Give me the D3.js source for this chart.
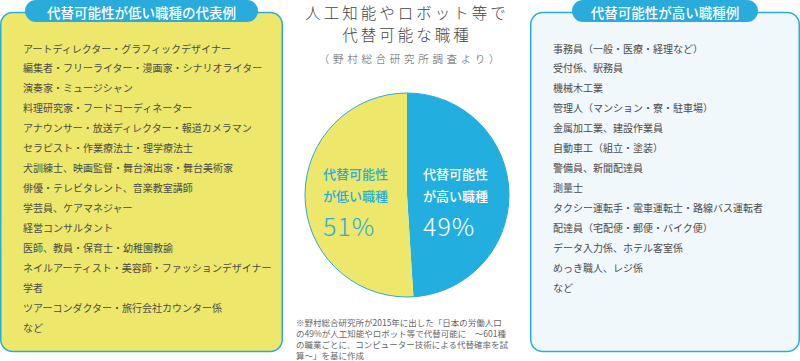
<!DOCTYPE html>
<html><head><meta charset="utf-8">
<script src="https://cdn.jsdelivr.net/npm/d3@7"></script>
<style>
html,body{margin:0;padding:0;background:#fff;}
svg{display:block;font-family:"Noto Sans CJK JP","Noto Sans",sans-serif;}
</style></head>
<body><svg id="c" width="800" height="361"></svg>
<script>
const categories = ["代替可能性が高い職種", "代替可能性が低い職種"];
const values = [49, 51];
const sliceLabelLines = [["代替可能性", "が高い職種"], ["代替可能性", "が低い職種"]];
const titleLines = ["人工知能やロボット等で", "代替可能な職種"];
const subtitle = "（野村総合研究所調査より）";
const lowTitle = "代替可能性が低い職種の代表例";
const lowList = [
  "アートディレクター・グラフィックデザイナー",
  "編集者・フリーライター・漫画家・シナリオライター",
  "演奏家・ミュージシャン",
  "料理研究家・フードコーディネーター",
  "アナウンサー・放送ディレクター・報道カメラマン",
  "セラピスト・作業療法士・理学療法士",
  "犬訓練士、映画監督・舞台演出家・舞台美術家",
  "俳優・テレビタレント、音楽教室講師",
  "学芸員、ケアマネジャー",
  "経営コンサルタント",
  "医師、教員・保育士・幼稚園教諭",
  "ネイルアーティスト・美容師・ファッションデザイナー",
  "学者",
  "ツアーコンダクター・旅行会社カウンター係",
  "など"
];
const highTitle = "代替可能性が高い職種例";
const highList = [
  "事務員（一般・医療・経理など）",
  "受付係、駅務員",
  "機械木工業",
  "管理人（マンション・寮・駐車場）",
  "金属加工業、建設作業員",
  "自動車工（組立・塗装）",
  "警備員、新聞配達員",
  "測量士",
  "タクシー運転手・電車運転士・路線バス運転者",
  "配達員（宅配便・郵便・バイク便）",
  "データ入力係、ホテル客室係",
  "めっき職人、レジ係",
  "など"
];
const footnote = [
  "※野村総合研究所が2015年に出した「日本の労働人口",
  "の49%が人工知能やロボット等で代替可能に　～601種",
  "の職業ごとに、コンピューター技術による代替確率を試",
  "算～」を基に作成"
];

const BLUE = "#29abdc", YELLOW = "#ede86b", TEXT = "#4a4a4a";
const svg = d3.select("#c");

function panel(x, w, fill, title, pillX, pillW, items) {
  const g = svg.append("g");
  g.append("rect").attr("x", x + 0.75).attr("y", 12.5).attr("width", w - 1.5).attr("height", 339)
    .attr("rx", 12).attr("fill", fill).attr("stroke", BLUE).attr("stroke-width", 1.5);
  g.append("rect").attr("x", pillX).attr("y", 0).attr("width", pillW).attr("height", 22)
    .attr("rx", 11).attr("fill", BLUE);
  g.append("text").attr("x", pillX + pillW / 2).attr("y", 11.5)
    .attr("text-anchor", "middle").attr("dominant-baseline", "central")
    .attr("fill", "#fff").attr("font-size", 13.5).attr("font-weight", 500).text(title);
  const y = d3.scalePoint().domain(d3.range(items.length)).range([48, 48 + 19.93 * (items.length - 1)]);
  g.selectAll("text.item").data(items).join("text").attr("class", "item")
    .attr("x", x + 23).attr("y", (d, i) => y(i)).attr("dominant-baseline", "central")
    .attr("fill", TEXT).attr("font-size", 10).text(d => d);
}
panel(0, 283, YELLOW, lowTitle, 25, 233, lowList);
panel(530, 270, "#f1f8fc", highTitle, 572, 186, highList);

// titles
const cx = 407, cy = 195, R = 102;
svg.selectAll("text.title").data(titleLines).join("text").attr("class", "title")
  .attr("x", cx).attr("y", (d, i) => 12 + i * 21.5).attr("text-anchor", "middle")
  .attr("dominant-baseline", "central").attr("fill", "#444").attr("font-size", 15.5)
  .attr("font-weight", 300).attr("letter-spacing", 3).text(d => d);
svg.append("text").attr("x", cx + 4).attr("y", 58).attr("text-anchor", "middle")
  .attr("dominant-baseline", "central").attr("fill", "#555").attr("font-size", 10.5)
  .attr("font-weight", 300).attr("letter-spacing", 3.7).text(subtitle);

// pie
const pie = d3.pie().sort(null).value(d => d)(values);
const arc = d3.arc().innerRadius(0).outerRadius(R);
const color = d3.scaleOrdinal().domain(categories).range(["#22afe0", YELLOW]);
const pg = svg.append("g").attr("transform", `translate(${cx},${cy})`);
pg.selectAll("path").data(pie).join("path").attr("d", arc)
  .attr("fill", (d, i) => color(categories[i]));
pg.append("circle").attr("r", R).attr("fill", "none").attr("stroke", BLUE).attr("stroke-width", 1);

const lblX = [16, -84], lblCol = ["#fff", BLUE];
pie.forEach((p, i) => {
  const lg = pg.append("g").attr("transform", `translate(${lblX[i]},0)`);
  sliceLabelLines[i].forEach((t, j) => {
    lg.append("text").attr("x", 0).attr("y", -22 + j * 22).attr("dominant-baseline", "central")
      .attr("fill", lblCol[i]).attr("font-size", 13).attr("font-weight", 500).text(t);
  });
  lg.append("text").attr("x", 0).attr("y", 30).attr("dominant-baseline", "central")
    .attr("fill", lblCol[i]).attr("font-size", 25).attr("font-weight", 300)
    .attr("letter-spacing", 1).text(values[i] + "%");
});

// footnote
svg.selectAll("text.fn").data(footnote).join("text").attr("class", "fn")
  .attr("x", 296).attr("y", (d, i) => 321.5 + i * 11.3).attr("dominant-baseline", "central")
  .attr("fill", "#666").attr("font-size", 8.5).text(d => d);
</script></body></html>
